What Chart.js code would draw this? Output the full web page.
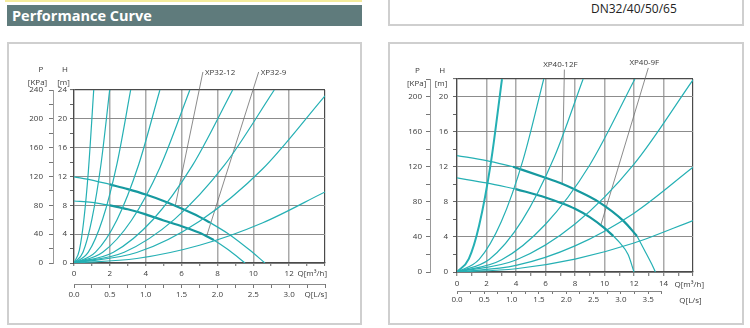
<!DOCTYPE html>
<html>
<head>
<meta charset="utf-8">
<script src="https://cdn.jsdelivr.net/npm/chart.js@4.4.0/dist/chart.umd.min.js"></script>
<style>
  body { margin: 0; width: 750px; height: 328px; background: #fff; position: relative; overflow: hidden; font-family: 'Open Sans', sans-serif; }
  .topline { position: absolute; left: 5px; top: 0; width: 357px; height: 2px; background: #f4eb9c; }
  .header { position: absolute; left: 7px; top: 5px; width: 355px; height: 21px; background: #5f7b7c; color: #fff;
            font-weight: bold; font-size: 14.5px; line-height: 21px; padding-left: 5px; box-sizing: border-box; }
  .dnbox { position: absolute; left: 388px; top: -10px; width: 356px; height: 36px; border: 2px solid #cfcfcf; box-sizing: border-box; }
  .dn { position: absolute; left: 591px; top: 0; font-size: 12px; line-height: 17px; color: #222; }
  .panel { position: absolute; top: 42px; height: 283px; border: 2px solid #cfcfcf; box-sizing: border-box; }
  canvas { position: absolute; }
</style>
</head>
<body>
<div class="topline"></div>
<div class="header">Performance Curve</div>
<div class="dnbox"></div>
<div class="dn">DN32/40/50/65</div>
<div class="panel" style="left:7px;width:355px"></div>
<div class="panel" style="left:388px;width:356px"></div>
<canvas id="xp32" width="351" height="279" style="left:9px;top:44px"></canvas>
<canvas id="xp40" width="352" height="279" style="left:390px;top:44px"></canvas>

<script>
// ---------- XP32 (left panel): Q in m³/h, H in m ----------
const xp32System = [
    [[0, 0], [0.3, 1.8], [0.55, 6], [0.8, 12.7], [1.1, 24]],
    [[0, 0], [0.5, 1.5], [1, 6.1], [1.5, 13.6], [1.99, 24]],
    [[0, 0], [0.8, 1.5], [1.6, 6.1], [2.4, 13.8], [3.16, 24]],
    [[0, 0], [1.2, 1.5], [2.4, 6.0], [3.6, 13.6], [4.79, 24]],
    [[0, 0], [1.6, 1.5], [3.2, 5.9], [4.8, 13.3], [6.46, 24]],
    [[0, 0], [2.2, 1.5], [4.4, 6.0], [6.6, 13.5], [8.85, 24]],
    [[0, 0], [2.8, 1.5], [5.6, 6.05], [8.4, 13.6], [11.17, 24]],
    [[0, 0], [3.5, 1.45], [7, 5.8], [10.5, 13], [14, 23.2]],
    [[0, 0], [3.5, 0.62], [7, 2.46], [10.5, 5.55], [14, 9.86]]
];
const xp32_12Head = [[0, 11.95], [1, 11.5], [2, 10.9]];
const xp32_12Duty = [[2, 10.9], [3, 10.25], [4, 9.5], [5, 8.6], [6, 7.55], [7, 6.4], [7.6, 5.6]];
const xp32_12Tail = [[7.6, 5.6], [8.7, 3.9], [9.8, 1.8], [10.65, 0]];
const xp32_9Head = [[0, 8.6], [1, 8.4], [2, 8.0]];
const xp32_9Duty = [[2, 8.0], [3, 7.45], [4, 6.75], [5, 5.9], [6, 5.1], [7, 4.2], [7.8, 3.2]];
const xp32_9Tail = [[7.8, 3.2], [8.7, 1.65], [9.54, 0]];
const xp32Names = ['XP32-12', 'XP32-9'];
const xp32Leaders = [[[5.65, 7.95], [7.19, 26.5]], [[7.4, 3.75], [10.3, 26.5]]];
const xp32FlowLabels = [0, 2, 4, 6, 8, 10, 12];
const xp32LsLabels = [0, 0.5, 1, 1.5, 2, 2.5, 3];
const xp32HeadLabels = [0, 4, 8, 12, 16, 20, 24];
const xp32KpaLabels = [0, 40, 80, 120, 160, 200, 240];

// ---------- XP40 (right panel) ----------
const xp40System = [
    [[0, 0], [0.8, 1.5], [1.5, 5.3], [2.3, 12.5], [3.05, 22]],
    [[0, 0], [1.5, 1.43], [3, 5.72], [4.5, 12.9], [5.88, 22]],
    [[0, 0], [2.2, 1.46], [4.4, 5.83], [6.6, 13.1], [8.55, 22]],
    [[0, 0], [3, 1.36], [6, 5.44], [9, 12.2], [12.06, 22]],
    [[0, 0], [4, 1.37], [8, 5.47], [12, 12.3], [16, 21.9]],
    [[0, 0], [4, 0.75], [8, 2.98], [12, 6.71], [16, 11.94]],
    [[0, 0], [4, 0.37], [8, 1.47], [12, 3.3], [16, 5.86]]
];
const xp40_12Head = [[0, 13.27], [2, 12.7], [3.8, 12.0]];
const xp40_12Duty = [[3.8, 12.0], [6, 10.75], [7, 10.15], [8, 9.4], [9.6, 8.0], [11.3, 5.8], [12.2, 4.1]];
const xp40_12Tail = [[12.2, 4.1], [12.8, 2.2], [13.2, 0.9], [13.45, 0]];
const xp40_9Head = [[0, 10.72], [2, 10.15], [4, 9.45]];
const xp40_9Duty = [[4, 9.45], [6, 8.5], [7, 7.9], [8, 7.2], [9, 6.25], [10, 5.0], [10.6, 4.1]];
const xp40_9Tail = [[10.6, 4.1], [11.0, 3.4], [11.6, 2.0], [12.0, 0]];
const xp40Names = ['XP40-12F', 'XP40-9F'];
const xp40Leaders = [[[7.13, 10.1], [7.28, 23.07]], [[9.75, 5.35], [12.97, 23.26]]];
const xp40FlowLabels = [0, 2, 4, 6, 8, 10, 12, 14];
const xp40LsLabels = [0, 0.5, 1, 1.5, 2, 2.5, 3, 3.5];
const xp40HeadLabels = [0, 4, 8, 12, 16, 20];
const xp40KpaLabels = [0, 40, 80, 120, 160, 200];

const TEAL = '#25b0b4';
const TEAL_DARK = '#16999f';
const FRAME = '#4a4a4a';
const VGRID = '#a9a9a9';
const HGRID = '#8c8c8c';
const TXT = '#3a3a3a';
const FONT = { family: "'Open Sans', sans-serif", size: 8 };

function curve(points, color, width) {
    return {
        data: points.map(p => ({ x: p[0], y: p[1] })),
        borderColor: color,
        borderWidth: width,
        pointRadius: 0,
        fill: false,
        cubicInterpolationMode: 'monotone'
    };
}

function leader(points) {
    return {
        data: points.map(p => ({ x: p[0], y: p[1] })),
        borderColor: '#6d6d6d',
        borderWidth: 0.8,
        pointRadius: 0,
        tension: 0,
        clip: false
    };
}

// texts that chart.js has no slot for (axis titles, curve names), plus the L/s axis line
function textPlugin(o) {
    return {
        id: 'texts',
        afterDraw(chart) {
            const ctx = chart.ctx;
            const ls = chart.scales.x2;
            ctx.save();
            ctx.strokeStyle = '#888';
            ctx.lineWidth = 1;
            ctx.beginPath();
            ctx.moveTo(ls.getPixelForValue(0), Math.round(ls.top) + 0.5);
            ctx.lineTo(ls.getPixelForValue(o.lsTickMax), Math.round(ls.top) + 0.5);
            ctx.stroke();

            ctx.fillStyle = TXT;
            ctx.font = "8px 'Open Sans', sans-serif";
            ctx.textBaseline = 'middle';
            o.texts.forEach(it => {
                ctx.textAlign = it.align || 'center';
                ctx.fillText(it.t, it.x, it.y);
            });
            o.names.forEach((n, i) => {
                const top = o.leaders[i][1];
                const x = chart.scales.x.getPixelForValue(top[0]);
                const y = chart.scales.y.getPixelForValue(top[1]);
                ctx.textAlign = o.nameStyle.align;
                ctx.fillText(n, x + o.nameStyle.dx, y + o.nameStyle.dy);
            });
            ctx.restore();
        }
    };
}

function buildChart(id, o) {
    let datasets = [];
    o.system.forEach((pts, i) => datasets.push(curve(pts, TEAL, o.sysWidth[i])));
    o.pumps.forEach(p => {
        datasets.push(curve(p[0], TEAL, 1.2));
        datasets.push(curve(p[1], TEAL_DARK, 2.2));
        datasets.push(curve(p[2], TEAL, 1.2));
    });
    o.leaders.forEach(l => datasets.push(leader(l)));

    let scales = {
        x: {
            type: 'linear', position: 'bottom', min: 0, max: o.qMax, weight: 0,
            afterFit: s => { s.height = o.xHeight; },
            ticks: {
                stepSize: 1, autoSkip: false, maxRotation: 0, padding: o.xPad, color: TXT, font: FONT,
                callback: v => o.flowLabels.includes(v) ? String(v) : ''
            },
            grid: {
                color: c => c.tick.value === o.qMax ? FRAME : (c.tick.value % 2 === 0 ? VGRID : 'rgba(0,0,0,0)'),
                lineWidth: c => c.tick.value === o.qMax ? 1.2 : 1.5,
                tickColor: '#666', tickWidth: 1, tickLength: o.xTick
            },
            border: { color: FRAME, width: 1.2 }
        },
        x2: {
            type: 'linear', position: 'bottom', min: 0, max: o.lsMax, weight: 1,
            afterFit: s => { s.height = o.x2Height; },
            afterBuildTicks: s => { s.ticks = s.ticks.filter(t => t.value <= o.lsTickMax); },
            ticks: {
                stepSize: 0.25, autoSkip: false, maxRotation: 0, padding: o.x2Pad, color: TXT, font: FONT,
                callback: v => o.lsLabels.includes(v) ? v.toFixed(1) : ''
            },
            grid: { drawOnChartArea: false, tickColor: '#777', tickWidth: 1, tickLength: o.x2Tick },
            border: { display: false }
        },
        y: {
            type: 'linear', position: 'left', min: 0, max: o.hMax, weight: 0,
            afterFit: s => { s.width = o.yWidth; },
            ticks: {
                stepSize: 2, padding: o.yPad, color: TXT, font: FONT,
                callback: v => o.headLabels.includes(v) ? String(v) : ''
            },
            grid: {
                color: c => c.tick.value === o.hMax ? FRAME : (c.tick.value % 4 === 0 ? HGRID : 'rgba(0,0,0,0)'),
                lineWidth: c => c.tick.value === o.hMax ? 1.2 : 1,
                tickColor: '#666', tickWidth: 1, tickLength: 4
            },
            border: { color: FRAME, width: 1.2 }
        },
        y2: {
            type: 'linear', position: 'left', min: 0, max: o.hMax * 10, weight: 1,
            afterFit: s => { s.width = o.y2Width; },
            ticks: {
                stepSize: 20, padding: o.y2Pad, color: TXT, font: FONT,
                callback: v => o.kpaLabels.includes(v) ? String(v) : ''
            },
            grid: { drawOnChartArea: false, tickColor: '#777', tickWidth: 1, tickLength: 4 },
            border: { color: '#999', width: 1 }
        }
    };

    let ctx = document.getElementById(id).getContext('2d');
    return new Chart(ctx, {
        type: 'line',
        data: { datasets: datasets },
        options: {
            responsive: false,
            animation: false,
            devicePixelRatio: 1,
            layout: { padding: o.padding },
            plugins: { legend: { display: false }, tooltip: { enabled: false } },
            scales: scales
        },
        plugins: [textPlugin(o)]
    });
}

buildChart('xp32', {
    system: xp32System,
    sysWidth: [1.2, 1.2, 1.2, 1.2, 1.2, 1.2, 1.2, 1.2, 1.2],
    pumps: [[xp32_12Head, xp32_12Duty, xp32_12Tail], [xp32_9Head, xp32_9Duty, xp32_9Tail]],
    leaders: xp32Leaders,
    names: xp32Names,
    nameStyle: { align: 'left', dx: 2, dy: 1 },
    flowLabels: xp32FlowLabels, lsLabels: xp32LsLabels, headLabels: xp32HeadLabels, kpaLabels: xp32KpaLabels,
    qMax: 14, lsMax: 3.5, lsTickMax: 3.5, hMax: 24,
    xHeight: 21, xPad: 3, xTick: 3,
    x2Height: 20, x2Pad: 2, x2Tick: 4,
    yWidth: 21, yPad: 3,
    y2Width: 44, y2Pad: 6,
    padding: { left: 0, top: 46, right: 35, bottom: 19 },
    texts: [
        { t: 'P', x: 32, y: 25.5 }, { t: '[KPa]', x: 28.5, y: 38.5 },
        { t: 'H', x: 56, y: 25.5 }, { t: '[m]', x: 54.5, y: 38.5 },
        { t: 'Q[m³/h]', x: 318, y: 229.5, align: 'right' },
        { t: 'Q[L/s]', x: 318, y: 251, align: 'right' }
    ]
});

buildChart('xp40', {
    system: xp40System,
    sysWidth: [2, 1.2, 1.2, 1.2, 1.2, 1.2, 1.2],
    pumps: [[xp40_12Head, xp40_12Duty, xp40_12Tail], [xp40_9Head, xp40_9Duty, xp40_9Tail]],
    leaders: xp40Leaders,
    names: xp40Names,
    nameStyle: { align: 'center', dx: -4, dy: -5 },
    flowLabels: xp40FlowLabels, lsLabels: xp40LsLabels, headLabels: xp40HeadLabels, kpaLabels: xp40KpaLabels,
    qMax: 16, lsMax: 4.32, lsTickMax: 3.75, hMax: 22,
    xHeight: 19, xPad: 3, xTick: 4,
    x2Height: 16, x2Pad: 1, x2Tick: 3,
    yWidth: 27, yPad: 5,
    y2Width: 40, y2Pad: 4,
    padding: { left: 0, top: 35, right: 49, bottom: 16 },
    texts: [
        { t: 'P', x: 27.3, y: 27 }, { t: '[KPa]', x: 26.7, y: 39.3 },
        { t: 'H', x: 52.3, y: 27 }, { t: '[m]', x: 51, y: 39.3 },
        { t: 'Q[m³/h]', x: 314, y: 240.3, align: 'right' },
        { t: 'Q[L/s]', x: 311.7, y: 256.7, align: 'right' }
    ]
});
</script>
</body>
</html>
